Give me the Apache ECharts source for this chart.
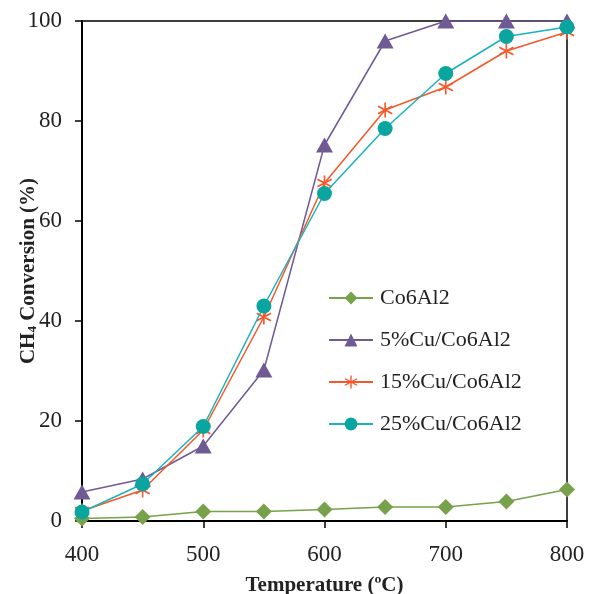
<!DOCTYPE html>
<html>
<head>
<meta charset="utf-8">
<script src="https://cdn.jsdelivr.net/npm/echarts@6/dist/echarts.min.js"></script>
<style>html,body{margin:0;padding:0;background:#fff}#c{width:590px;height:594px}</style>
</head>
<body>
<div id="c"></div>
<script>
const temps = [400, 450, 500, 550, 600, 650, 700, 750, 800];
const co6al2 = [0.5, 0.8, 1.9, 1.9, 2.3, 2.8, 2.8, 3.9, 6.3];
const cu5 = [5.8, 8.4, 15, 30.2, 75.2, 96, 100, 100, 100];
const cu15 = [2, 6.2, 18.2, 40.8, 67.6, 82.2, 86.8, 94, 97.8];
const cu25 = [1.8, 7.4, 18.9, 43, 65.5, 78.5, 89.5, 96.9, 98.8];
const seriesNames = ['Co6Al2', '5%Cu/Co6Al2', '15%Cu/Co6Al2', '25%Cu/Co6Al2'];
const xTitle = 'Temperature (ºC)';

const asterisk = 'path://M9,0L11,0L11,20L9,20Z M18.16,15.87L0.84,5.87L1.84,4.13L19.16,14.13Z M19.16,5.87L1.84,15.87L0.84,14.13L18.16,4.13Z';
const pair = arr => temps.map((t, i) => [t, arr[i]]);
const font = '"Liberation Serif","Times New Roman",serif';

const chart = echarts.init(document.getElementById('c'));
chart.setOption({
  animation: false,
  backgroundColor: '#fff',
  grid: { left: 82, top: 21, right: 23, bottom: 73, outerBoundsMode: 'none', containLabel: false,
          show: true, borderColor: '#000', borderWidth: 1.5, backgroundColor: 'transparent' },
  legend: {
    orient: 'vertical', left: 328, top: 287, padding: 0, itemWidth: 44, itemHeight: 16, itemGap: 20,
    textStyle: { fontFamily: font, fontSize: 22, color: '#222', padding: [0, 0, 0, 2] },
    data: seriesNames
  },
  xAxis: {
    type: 'value', min: 400, max: 800, interval: 100,
    axisLine: { show: true, lineStyle: { color: '#000', width: 2 } },
    axisTick: { show: true, inside: false, length: 7, lineStyle: { color: '#000', width: 1.5 } },
    axisLabel: { fontFamily: font, fontSize: 23, color: '#222', margin: 22 },
    splitLine: { show: false },
    name: xTitle, nameLocation: 'middle', nameGap: 54, nameMoveOverlap: false,
    nameTextStyle: { fontFamily: font, fontSize: 21, fontWeight: 'bold', color: '#222' }
  },
  yAxis: {
    type: 'value', min: 0, max: 100, interval: 20,
    axisLine: { show: true, lineStyle: { color: '#000', width: 2 } },
    axisTick: { show: true, inside: false, length: 7, lineStyle: { color: '#000', width: 1.5 } },
    axisLabel: { fontFamily: font, fontSize: 23, color: '#222', margin: 20 },
    splitLine: { show: false },
    name: '{b|CH}{s|4}{b| Conversion (%)}', nameLocation: 'middle', nameGap: 43, nameMoveOverlap: false,
    nameTextStyle: {
      fontFamily: font, fontSize: 21, fontWeight: 'bold', color: '#222',
      rich: {
        b: { fontFamily: font, fontSize: 21, fontWeight: 'bold', color: '#222' },
        s: { fontFamily: font, fontSize: 13, fontWeight: 'bold', color: '#222', verticalAlign: 'bottom', padding: [8, 0, 0, 0] }
      }
    }
  },
  series: [
    { name: seriesNames[0], type: 'line', data: pair(co6al2), symbol: 'diamond', symbolSize: 16,
      lineStyle: { color: '#77A14A', width: 1.5 }, itemStyle: { color: '#77A14A' }, z: 2 },
    { name: seriesNames[1], type: 'line', data: pair(cu5), symbol: 'triangle', symbolSize: [17, 15],
      lineStyle: { color: '#705A94', width: 1.5 }, itemStyle: { color: '#705A94' }, z: 3 },
    { name: seriesNames[2], type: 'line', data: pair(cu15), symbol: asterisk, symbolSize: 15,
      lineStyle: { color: '#F5582A', width: 1.5 }, itemStyle: { color: '#F5582A' }, z: 4 },
    { name: seriesNames[3], type: 'line', data: pair(cu25), symbol: 'circle', symbolSize: 15,
      lineStyle: { color: '#1AB2BD', width: 1.5 }, itemStyle: { color: '#0BA5A0' }, z: 5 }
  ]
});
</script>
</body>
</html>
